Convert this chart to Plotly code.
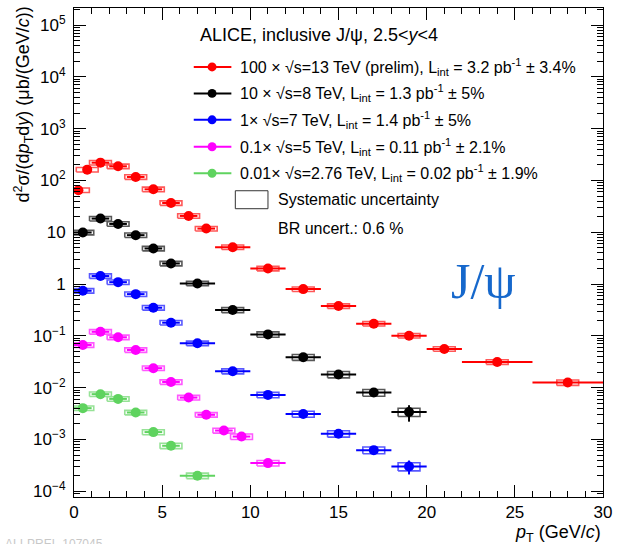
import plotly.graph_objects as go

# ---------------- data ----------------
pt_13 = [0.25, 0.75, 1.5, 2.5, 3.5, 4.5, 5.5, 6.5, 7.5, 9, 11, 13, 15, 17, 19, 21, 24, 28]
dpt_13 = [0.25, 0.25, 0.5, 0.5, 0.5, 0.5, 0.5, 0.5, 0.5, 1, 1, 1, 1, 1, 1, 1, 2, 2]
y_13 = [65, 162, 221, 188, 117, 67.6, 36.8, 20.7, 11.8, 5.16, 2.0, 0.80, 0.377, 0.172, 0.101, 0.056, 0.0314, 0.0126]
stat_13 = [0.04, 0.03, 0.03, 0.03, 0.03, 0.03, 0.03, 0.03, 0.03, 0.03, 0.04, 0.04, 0.05, 0.06, 0.07, 0.08, 0.08, 0.15]
sys_13 = [0.10, 0.10, 0.10, 0.10, 0.10, 0.10, 0.10, 0.10, 0.10, 0.10, 0.10, 0.10, 0.10, 0.10, 0.10, 0.10, 0.10, 0.12]

pt_8 = [0.5, 1.5, 2.5, 3.5, 4.5, 5.5, 7, 9, 11, 13, 15, 17, 19]
dpt_8 = [0.5, 0.5, 0.5, 0.5, 0.5, 0.5, 1, 1, 1, 1, 1, 1, 1]
y_8 = [9.9, 18.4, 14.5, 8.8, 4.87, 2.5, 1.03, 0.316, 0.107, 0.0387, 0.018, 0.00805, 0.0034]
stat_8 = [0.04, 0.03, 0.03, 0.03, 0.03, 0.04, 0.04, 0.05, 0.06, 0.08, 0.10, 0.14, 0.35]
sys_8 = [0.10, 0.10, 0.10, 0.10, 0.10, 0.10, 0.10, 0.11, 0.12, 0.13, 0.14, 0.15, 0.18]

pt_7 = [0.5, 1.5, 2.5, 3.5, 4.5, 5.5, 7, 9, 11, 13, 15, 17, 19]
dpt_7 = [0.5, 0.5, 0.5, 0.5, 0.5, 0.5, 1, 1, 1, 1, 1, 1, 1]
y_7 = [0.744, 1.43, 1.09, 0.64, 0.35, 0.18, 0.072, 0.0208, 0.00726, 0.0031, 0.00129, 0.000623, 0.000302]
stat_7 = [0.04, 0.03, 0.03, 0.03, 0.03, 0.04, 0.04, 0.05, 0.06, 0.08, 0.10, 0.14, 0.30]
sys_7 = [0.10, 0.10, 0.10, 0.10, 0.10, 0.10, 0.10, 0.11, 0.12, 0.13, 0.14, 0.15, 0.18]

pt_5 = [0.5, 1.5, 2.5, 3.5, 4.5, 5.5, 6.5, 7.5, 8.5, 9.5, 11]
dpt_5 = [0.5, 0.5, 0.5, 0.5, 0.5, 0.5, 0.5, 0.5, 0.5, 0.5, 1]
y_5 = [0.0668, 0.12, 0.094, 0.0535, 0.0238, 0.0129, 0.00645, 0.0030, 0.00149, 0.00114, 0.00035]
stat_5 = [0.04, 0.03, 0.03, 0.03, 0.04, 0.04, 0.05, 0.06, 0.07, 0.08, 0.10]
sys_5 = [0.10, 0.10, 0.10, 0.10, 0.10, 0.10, 0.10, 0.10, 0.11, 0.12, 0.12]

pt_276 = [0.5, 1.5, 2.5, 3.5, 4.5, 5.5, 7]
dpt_276 = [0.5, 0.5, 0.5, 0.5, 0.5, 0.5, 1]
y_276 = [0.00403, 0.0075, 0.00608, 0.00332, 0.00139, 0.000757, 0.0002]
stat_276 = [0.05, 0.04, 0.04, 0.05, 0.06, 0.07, 0.10]
sys_276 = [0.10, 0.10, 0.10, 0.10, 0.11, 0.12, 0.12]

series_names = [
    "100 × √s=13 TeV (prelim), L<sub>int</sub> = 3.2 pb<sup>-1</sup> ± 3.4%",
    "10 × √s=8 TeV, L<sub>int</sub> = 1.3 pb<sup>-1</sup> ± 5%",
    "1× √s=7 TeV, L<sub>int</sub> = 1.4 pb<sup>-1</sup> ± 5%",
    "0.1× √s=5 TeV, L<sub>int</sub> = 0.11 pb<sup>-1</sup> ± 2.1%",
    "0.01× √s=2.76 TeV, L<sub>int</sub> = 0.02 pb<sup>-1</sup> ± 1.9%",
]
series_colors = ["#ff0000", "#000000", "#0000ff", "#ff00ff", "#5fd35f"]

y_tickvals = [1e-4, 1e-3, 1e-2, 1e-1, 1, 10, 1e2, 1e3, 1e4, 1e5]
y_ticktext = ["10<sup>−4</sup>", "10<sup>−3</sup>", "10<sup>−2</sup>", "10<sup>−1</sup>", "1", "10",
              "10<sup>2</sup>", "10<sup>3</sup>", "10<sup>4</sup>", "10<sup>5</sup>"]
x_tickvals = [0, 5, 10, 15, 20, 25, 30]

SYS_HALF_WIDTH = 0.62

series = [
    (pt_13, dpt_13, y_13, stat_13, sys_13),
    (pt_8, dpt_8, y_8, stat_8, sys_8),
    (pt_7, dpt_7, y_7, stat_7, sys_7),
    (pt_5, dpt_5, y_5, stat_5, sys_5),
    (pt_276, dpt_276, y_276, stat_276, sys_276),
]

FONT = "Liberation Sans, Arial, sans-serif"
W, H = 619, 544
L, R, T, B = 74, 10.5, 7, 47.3
PW, PH = W - L - R, H - T - B


def px(xp):
    return (xp - L) / PW


def py(yp):
    return (H - B - yp) / PH


fig = go.Figure()

# systematic boxes
for (pt, dpt, yv, st, sy), col in zip(series, series_colors):
    bx, byy = [], []
    for x, y, s in zip(pt, yv, sy):
        lo, hi = y * (1 - s), y * (1 + s)
        bx += [x - SYS_HALF_WIDTH, x + SYS_HALF_WIDTH, x + SYS_HALF_WIDTH, x - SYS_HALF_WIDTH, x - SYS_HALF_WIDTH, None]
        byy += [lo, lo, hi, hi, lo, None]
    fig.add_trace(go.Scatter(x=bx, y=byy, mode="lines", line=dict(color=col, width=1.6),
                             opacity=0.65, hoverinfo="skip", showlegend=False))

# points with stat errors
for (pt, dpt, yv, st, sy), col, nm in zip(series, series_colors, series_names):
    fig.add_trace(go.Scatter(
        x=pt, y=yv, mode="markers", name=nm, showlegend=False,
        marker=dict(color=col, size=10, symbol="circle", line=dict(width=0)),
        error_x=dict(type="data", array=dpt, color=col, thickness=2, width=0),
        error_y=dict(type="data", array=[y * s for y, s in zip(yv, st)], color=col, thickness=2, width=0),
    ))

# minor tick values for log axis
y_minor = [k * 10.0 ** e for e in range(-5, 6) for k in range(2, 10)]

fig.update_layout(
    width=W, height=H,
    margin=dict(l=L, r=R, t=T, b=B),
    paper_bgcolor="white", plot_bgcolor="white",
    font=dict(family=FONT, size=16, color="black"),
    showlegend=False,
    xaxis=dict(range=[0, 30], showgrid=False, zeroline=False, showline=True, linecolor="black",
               linewidth=1, mirror="allticks", ticks="inside", ticklen=12, tickcolor="black",
               tickvals=x_tickvals, ticklabelstandoff=0,
               minor=dict(ticks="inside", ticklen=6, dtick=1, tickcolor="black", showgrid=False),
               tickfont=dict(size=17)),
    yaxis=dict(type="log", range=[-4.11, 5.33], showgrid=False, zeroline=False, showline=True,
               linecolor="black", linewidth=1, mirror="allticks", ticks="inside", ticklen=12,
               tickcolor="black", tickvals=y_tickvals, ticktext=y_ticktext, ticklabelstandoff=4,
               minor=dict(ticks="inside", ticklen=6, tickvals=y_minor, tickcolor="black", showgrid=False),
               tickfont=dict(size=17)),
)

ann = []
shapes = []
LEG = 16
# title
ann.append(dict(x=px(199), y=py(34), xref="paper", yref="paper", xanchor="left", yanchor="middle",
                text="ALICE, inclusive J/ψ, 2.5<<i>y</i><4", showarrow=False,
                font=dict(size=18, family=FONT)))
rows = [66, 92.5, 119, 146, 172.5]
for yr, nm, col in zip(rows, series_names, series_colors):
    shapes.append(dict(type="line", xref="paper", yref="paper", x0=px(195), x1=px(233), y0=py(yr), y1=py(yr),
                       line=dict(color=col, width=2)))
    r = 4.5
    shapes.append(dict(type="circle", xref="paper", yref="paper", x0=px(213.5 - r), x1=px(213.5 + r),
                       y0=py(yr + r), y1=py(yr - r), fillcolor=col, line=dict(width=0)))
    ann.append(dict(x=px(240), y=py(yr), xref="paper", yref="paper", xanchor="left", yanchor="middle",
                    text=nm, showarrow=False, font=dict(size=LEG, family=FONT)))
shapes.append(dict(type="rect", xref="paper", yref="paper", x0=px(237), x1=px(270), y0=py(208), y1=py(190),
                   line=dict(color="#333333", width=1)))
ann.append(dict(x=px(278), y=py(199), xref="paper", yref="paper", xanchor="left", yanchor="middle",
                text="Systematic uncertainty", showarrow=False, font=dict(size=LEG, family=FONT)))
ann.append(dict(x=px(278), y=py(228), xref="paper", yref="paper", xanchor="left", yanchor="middle",
                text="BR uncert.: 0.6 %", showarrow=False, font=dict(size=LEG, family=FONT)))
# J/psi label
ann.append(dict(x=px(488), y=py(280), xref="paper", yref="paper", xanchor="center", yanchor="middle",
                text="J/ψ", showarrow=False,
                font=dict(size=50, family="Liberation Serif, Times New Roman, serif", color="#1668cc")))
# axis titles
ann.append(dict(x=px(22), y=py(4), xref="paper", yref="paper", xanchor="center", yanchor="top",
                textangle=-90, showarrow=False,
                text="d<sup>2</sup>σ/(d<i>p</i><sub>T</sub>d<i>y</i>) (μb/(GeV/<i>c</i>))",
                font=dict(size=18, family=FONT)))
ann.append(dict(x=1.0, y=py(533), xref="paper", yref="paper", xanchor="right", yanchor="middle",
                showarrow=False, text="<i>p</i><sub>T</sub> (GeV/<i>c</i>)", font=dict(size=18, family=FONT)))
# watermark (cut by the bottom edge, as in the reference)
ann.append(dict(x=px(2), y=py(544), xref="paper", yref="paper", xanchor="left", yanchor="middle",
                showarrow=False, text="ALI-PREL-107045", font=dict(size=12, family=FONT, color="#c8c8c8")))

fig.update_layout(annotations=ann, shapes=shapes)
fig.write_html("out.html")
